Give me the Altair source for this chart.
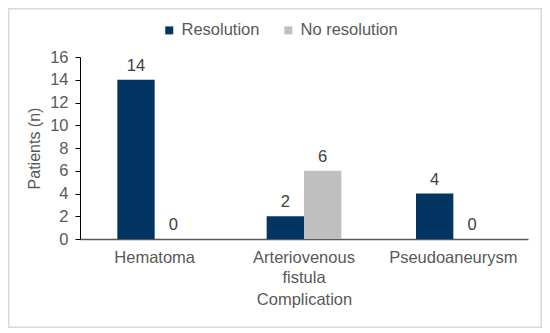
import altair as alt
import pandas as pd

categories = ["Hematoma", "Arteriovenous fistula", "Pseudoaneurysm"]
statuses = ["Resolution", "No resolution"]
resolution = [14, 2, 4]
no_resolution = [0, 6, 0]
y_ticks = [0, 2, 4, 6, 8, 10, 12, 14, 16]
colors = ["#033563", "#BFBFBF"]

rows = []
for c, r, n in zip(categories, resolution, no_resolution):
    rows.append({"Complication": c, "Status": statuses[0], "Patients": r})
    rows.append({"Complication": c, "Status": statuses[1], "Patients": n})
df = pd.DataFrame(rows)

FONT = "Liberation Sans"
FS = 16.5
W, H = 448, 182
PAD = {"left": 72, "top": 49, "right": 14, "bottom": 89}

base = alt.Chart(df).encode(
    x=alt.X(
        "Complication:N",
        sort=categories,
        scale=alt.Scale(paddingInner=0.5, paddingOuter=0.25),
        axis=alt.Axis(
            title="Complication",
            labelAngle=0,
            ticks=False,
            domainColor="#595959",
            domainWidth=1.5,
            labelColor="#595959",
            labelFontSize=FS,
            labelFont=FONT,
            labelPadding=10,
            labelLineHeight=20,
            labelExpr="datum.value == 'Arteriovenous fistula' ? ['Arteriovenous', 'fistula'] : datum.value",
            titleColor="#595959",
            titleFontSize=FS,
            titleFont=FONT,
            titleFontWeight="normal",
            titlePadding=6,
        ),
    ),
    xOffset=alt.XOffset("Status:N", sort=statuses, scale=alt.Scale(paddingInner=0, paddingOuter=0)),
    y=alt.Y(
        "Patients:Q",
        scale=alt.Scale(domain=[0, 16], nice=False),
        axis=alt.Axis(
            title="Patients (n)",
            values=y_ticks,
            grid=False,
            domainColor="#000000",
            tickColor="#000000",
            tickSize=5,
            labelColor="#595959",
            labelFontSize=FS,
            labelFont=FONT,
            labelPadding=7,
            titleColor="#595959",
            titleFontSize=16,
            titleFont=FONT,
            titleFontWeight="normal",
            titlePadding=7,
        ),
    ),
)

bars = base.mark_bar().encode(
    color=alt.Color(
        "Status:N",
        sort=statuses,
        scale=alt.Scale(domain=statuses, range=colors),
        legend=alt.Legend(
            title=None,
            orient="none",
            direction="horizontal",
            legendX=81,
            legendY=-35,
            symbolType="square",
            symbolSize=64,
            symbolStrokeWidth=0,
            labelFontSize=FS,
            labelFont=FONT,
            labelColor="#595959",
            columnPadding=20,
            labelOffset=4,
        ),
    )
)

text = base.mark_text(baseline="alphabetic", dy=-9, fontSize=FS, font=FONT, color="#404040").encode(
    text="Patients:Q"
)

border = alt.Chart(alt.Data(values=[{}])).mark_rect(
    fill=None, stroke="#D9D9D9", strokeWidth=1.5
).encode(
    x=alt.value(-PAD["left"] + 0.75),
    x2=alt.value(W + PAD["right"] - 0.75),
    y=alt.value(-PAD["top"] + 0.75),
    y2=alt.value(H + PAD["bottom"] - 0.75),
)

chart = (
    alt.layer(border, bars, text)
    .properties(width=W, height=H, autosize=alt.AutoSizeParams(type="none"), padding=PAD, background="white")
    .configure_view(stroke=None)
)

chart.save("out.html", embed_options={"renderer": "svg", "actions": False})
